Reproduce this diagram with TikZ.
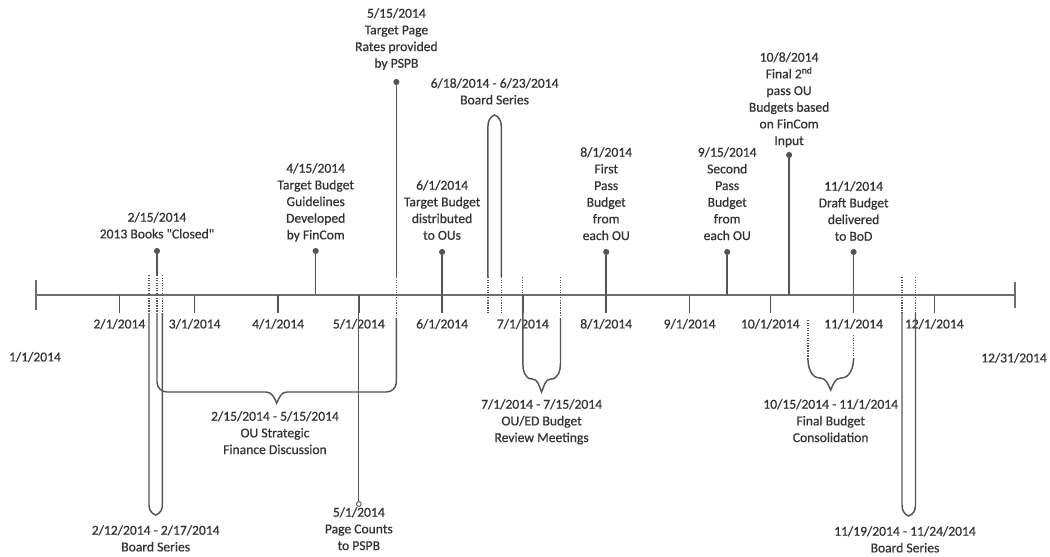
\documentclass[tikz,border=0pt]{standalone}
\usepackage{fontspec}
\setmainfont{Carlito}
\newfontfamily\lblfont[FakeBold=0.6]{Carlito}
\definecolor{ln}{HTML}{555555}
\definecolor{tx}{HTML}{333333}
\begin{document}
\begin{tikzpicture}[x=0.75pt,y=-0.75pt,
  line/.style={draw=ln, line width=1.1pt},
  axisline/.style={draw=ln!85, line width=1.2pt},
  dots/.style={draw=ln, line width=0.9pt, densely dotted},
  lbl/.style={text=tx, font=\lblfont\fontsize{10.2}{12.5}\selectfont, align=center, inner sep=0pt, anchor=north},
  mlbl/.style={text=tx, font=\lblfont\fontsize{10.2}{12.5}\selectfont, inner sep=0pt},
  evdot/.style={circle, fill=ln, inner sep=0pt, minimum size=4.6pt},
  opendot/.style={circle, draw=ln, fill=white, line width=0.7pt, inner sep=0pt, minimum size=3.6pt}]
\useasboundingbox (0,0) rectangle (1050,557);
\fill[white] (0,0) rectangle (1050,557);

% axis
\coordinate (a0) at (36,295);
\coordinate (a1) at (1015,295);
\draw[axisline] (a0) -- (a1);
\draw[axisline] (36,280) -- (36,310);
\draw[axisline] (1015,282) -- (1015,308);
\node[mlbl] (l0101) at (35,357) {1/1/2014};
\node[mlbl] (l1231) at (1014,358) {12/31/2014};

% month ticks
\foreach \x/\m in {119.4/2,194.7/3,278.1/4,358.8/5,442.1/6,522.8/7,606.2/8,689.6/9,770.3/10,853.6/11,934.3/12}{
  \draw[line] (\x,295) -- (\x,313);
  \node[mlbl] (m\m) at (\x,324) {\m/1/2014};
}

% events above the axis
\node[evdot] (e0215) at (157,251) {};
\node[evdot] (e0415) at (315.7,251) {};
\node[evdot] (e0515) at (396.4,82) {};
\node[evdot] (e0601) at (442.1,252) {};
\node[evdot] (e0801) at (606.2,252) {};
\node[evdot] (e0915) at (727.2,252) {};
\node[evdot] (e1008) at (789.1,155) {};
\node[evdot] (e1101) at (853.6,252) {};

\coordinate (s0215a) at (157,275);
\coordinate (s0215b) at (157,313);
\draw[line] (e0215) -- (s0215a);
\draw[dots] (s0215a) -- (s0215b);
\draw[line] (e0415) -- (315.7,295);
\coordinate (s0515a) at (396.4,277);
\coordinate (s0515b) at (396.4,318);
\draw[line] (e0515) -- (s0515a);
\draw[dots] (s0515a) -- (s0515b);
\draw[line] (e0601) -- (442.1,295);
\draw[line] (e0801) -- (606.2,295);
\draw[line] (e0915) -- (727.2,295);
\draw[line] (e1008) -- (789.1,295);
\draw[line] (e1101) -- (853.6,295);

\node[lbl] (t0215) at (157,212) {2/15/2014\\2013 Books "Closed"};
\node[lbl] (t0415) at (315.7,163) {4/15/2014\\Target Budget\\Guidelines\\Developed\\by FinCom};
\node[lbl] (t0515) at (396.4,8) {5/15/2014\\Target Page\\Rates provided\\by PSPB};
\node[lbl] (t0601) at (442.1,180) {6/1/2014\\Target Budget\\distributed\\to OUs};
\node[lbl] (t0801) at (606.2,147) {8/1/2014\\First\\Pass\\Budget\\from\\each OU};
\node[lbl] (t0915) at (727.2,147) {9/15/2014\\Second\\Pass\\Budget\\from\\each OU};
\node[lbl] (t1008) at (789.1,52) {10/8/2014\\Final 2\textsuperscript{nd}\\pass OU\\Budgets based\\on FinCom\\Input};
\node[lbl] (t1101) at (853.6,181) {11/1/2014\\Draft Budget\\delivered\\to BoD};

% Board series 2/12 - 2/17
\draw[dots] (149,275) -- (149,313);
\draw[dots] (162.4,275) -- (162.4,313);
\draw[line] (149,313) -- (149,505) to[out=-90,in=160] (155.7,515) to[out=20,in=-90] (162.4,505) -- (162.4,313);
\node[lbl] (tb1) at (155.7,525) {2/12/2014 - 2/17/2014\\Board Series};

% OU strategic brace 2/15 - 5/15
\draw[line] (s0215b) -- (157,382) to[out=-90,in=180] (167,392) -- (266,392) to[out=0,in=115] (276.7,403)
  to[out=65,in=180] (287,392) -- (386.4,392) to[out=0,in=-90] (396.4,382) -- (s0515b);
\node[lbl] (tbr1) at (275,411) {2/15/2014 - 5/15/2014\\OU Strategic\\Finance Discussion};

% Page counts 5/1
\node[opendot] (pc) at (358.8,504) {};
\draw[line, line width=0.8pt] (358.8,295) -- (pc);
\node[lbl] (tpc) at (358.8,507) {5/1/2014\\Page Counts\\to PSPB};

% Board series 6/18 - 6/23
\draw[dots] (487.9,277) -- (487.9,313);
\draw[dots] (501.3,277) -- (501.3,313);
\draw[line] (487.9,277) -- (487.9,127) to[out=90,in=-160] (494.6,115) to[out=-20,in=90] (501.3,127) -- (501.3,277);
\node[lbl] (tb2) at (494.6,78) {6/18/2014 - 6/23/2014\\Board Series};

% OU/ED review 7/1 - 7/15
\draw[dots] (522.8,277) -- (522.8,295);
\draw[dots] (560.5,277) -- (560.5,318);
\draw[line] (522.8,295) -- (522.8,363) to[out=-90,in=180] (532,379) to[out=0,in=115] (541.6,392)
  to[out=65,in=180] (551,379) to[out=0,in=-90] (560.5,363) -- (560.5,318);
\node[lbl] (tbr2) at (541.6,399) {7/1/2014 - 7/15/2014\\OU/ED Budget\\Review Meetings};

% Final budget consolidation 10/15 - 11/1
\draw[dots] (807.9,320) -- (807.9,358);
\draw[dots] (853.6,335) -- (853.6,358);
\draw[line] (807.9,358) to[out=-90,in=180] (820,378) to[out=0,in=115] (830.7,390)
  to[out=65,in=180] (841,378) to[out=0,in=-90] (853.6,358);
\node[lbl] (tbr3) at (830.7,399) {10/15/2014 - 11/1/2014\\Final Budget\\Consolidation};

% Board series 11/19 - 11/24
\draw[dots] (902,277) -- (902,313);
\draw[dots] (915.5,277) -- (915.5,313);
\draw[line] (902,313) -- (902,505) to[out=-90,in=160] (908.7,516) to[out=20,in=-90] (915.5,505) -- (915.5,313);
\node[lbl] (tb3) at (905,526) {11/19/2014 - 11/24/2014\\Board Series};
\end{tikzpicture}
\end{document}
